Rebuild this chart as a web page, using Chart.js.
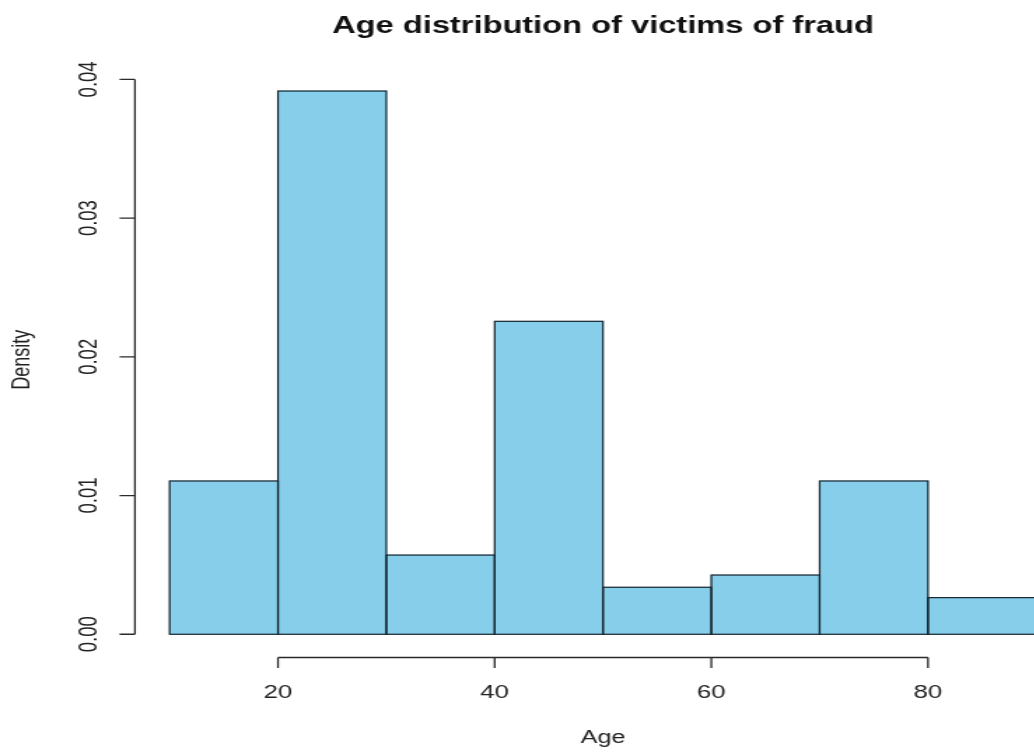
<!DOCTYPE html>
<html><head><meta charset="utf-8">
<script src="https://cdn.jsdelivr.net/npm/chart.js@4.4.1/dist/chart.umd.min.js"></script>
<style>
html,body{margin:0;padding:0;background:#fff;overflow:hidden;width:1034px;height:752px;}
#wrap{position:absolute;left:0;top:0;width:780px;height:752px;transform:scaleX(1.4);transform-origin:0 0;}
canvas{display:block;}
</style></head><body>
<div id="wrap"><canvas id="c" width="780" height="752"></canvas></div>
<script>
// ---- data ----
const chartTitle = 'Age distribution of victims of fraud';
const xAxisTitle = 'Age';
const yAxisTitle = 'Density';
const binEdges = [10, 20, 30, 40, 50, 60, 70, 80, 90];
const density = [0.01105, 0.03916, 0.00571, 0.02256, 0.00339, 0.00427, 0.01105, 0.00264];
const xTicks = [20, 40, 60, 80];
const xTickLabels = ['20', '40', '60', '80'];
const yTicks = [0, 0.01, 0.02, 0.03, 0.04];
const yTickLabels = ['0.00', '0.01', '0.02', '0.03', '0.04'];

// R-style 4% axis range extension
const xPad = 0.04 * (binEdges[binEdges.length - 1] - binEdges[0]);
const yPad = 0.04 * Math.max(...density);

const points = density.map((d, i) => ({ x: (binEdges[i] + binEdges[i + 1]) / 2, y: d }));

const FONT = '"Liberation Sans", Arial, Helvetica, sans-serif';
const INK = '#222222';

const rAxesPlugin = {
  id: 'rAxes',
  afterDatasetsDraw(chart) {
    const ctx = chart.ctx;
    const meta = chart.getDatasetMeta(0);
    ctx.save();
    ctx.strokeStyle = '#16232d';
    ctx.lineWidth = 1.2;
    meta.data.forEach(el => {
      const p = el.getProps(['x', 'y', 'base', 'width'], true);
      ctx.strokeRect(p.x - p.width / 2, p.y, p.width, p.base - p.y);
    });
    ctx.restore();
  },
  afterDraw(chart) {
    const ctx = chart.ctx, xs = chart.scales.x, ys = chart.scales.y, ca = chart.chartArea;
    ctx.save();
    ctx.strokeStyle = '#2a2a2a';
    ctx.fillStyle = INK;
    ctx.lineWidth = 1.3;
    // x axis (bottom of plot region, spanning first..last tick)
    const xa = ca.bottom + 1.5;
    ctx.beginPath();
    ctx.moveTo(xs.getPixelForValue(xTicks[0]), xa);
    ctx.lineTo(xs.getPixelForValue(xTicks[xTicks.length - 1]), xa);
    xTicks.forEach(v => {
      const px = xs.getPixelForValue(v);
      ctx.moveTo(px, xa); ctx.lineTo(px, xa + 10.5);
    });
    ctx.stroke();
    // y axis
    const ya = ca.left;
    ctx.beginPath();
    ctx.moveTo(ya, ys.getPixelForValue(yTicks[0]));
    ctx.lineTo(ya, ys.getPixelForValue(yTicks[yTicks.length - 1]));
    yTicks.forEach(v => {
      const py = ys.getPixelForValue(v);
      ctx.moveTo(ya, py); ctx.lineTo(ya - 11, py);
    });
    ctx.stroke();
    // tick labels
    ctx.font = '18.5px ' + FONT;
    ctx.textAlign = 'center';
    ctx.textBaseline = 'alphabetic';
    xTicks.forEach((v, i) => ctx.fillText(xTickLabels[i], xs.getPixelForValue(v), 698.3));
    yTicks.forEach((v, i) => {
      ctx.save();
      ctx.translate(69, ys.getPixelForValue(v));
      ctx.rotate(-Math.PI / 2);
      ctx.fillText(yTickLabels[i], 0, 0);
      ctx.restore();
    });
    // axis titles
    ctx.font = '18px ' + FONT;
    ctx.fillText(xAxisTitle, (ca.left + ca.right) / 2, 743);
    ctx.save();
    ctx.translate(20.5, (ca.top + ca.bottom) / 2 - 3);
    ctx.rotate(-Math.PI / 2);
    ctx.fillText(yAxisTitle, 0, 0);
    ctx.restore();
    // main title
    ctx.fillStyle = '#111111';
    ctx.font = 'bold 23.3px ' + FONT;
    ctx.fillText(chartTitle, (ca.left + ca.right) / 2, 33.3);
    ctx.restore();
  }
};

new Chart(document.getElementById('c'), {
  type: 'bar',
  data: {
    datasets: [{
      label: 'Density',
      data: points,
      backgroundColor: '#87CEEB',
      borderWidth: 0,
      barPercentage: 1,
      categoryPercentage: 1
    }]
  },
  options: {
    responsive: false,
    animation: false,
    devicePixelRatio: 1,
    layout: { padding: { left: 96.4, right: 15, top: 69.3, bottom: 96 } },
    plugins: { legend: { display: false }, tooltip: { enabled: false }, title: { display: false } },
    scales: {
      x: {
        type: 'linear', display: false, offset: false,
        grid: { offset: false },
        min: binEdges[0] - xPad, max: binEdges[binEdges.length - 1] + xPad,
        afterBuildTicks: s => { s.ticks = xTicks.map(v => ({ value: v })); }
      },
      y: {
        type: 'linear', display: false,
        min: -yPad, max: Math.max(...density) + yPad,
        afterBuildTicks: s => { s.ticks = yTicks.map(v => ({ value: v })); }
      }
    }
  },
  plugins: [rAxesPlugin]
});
</script>
</body></html>
